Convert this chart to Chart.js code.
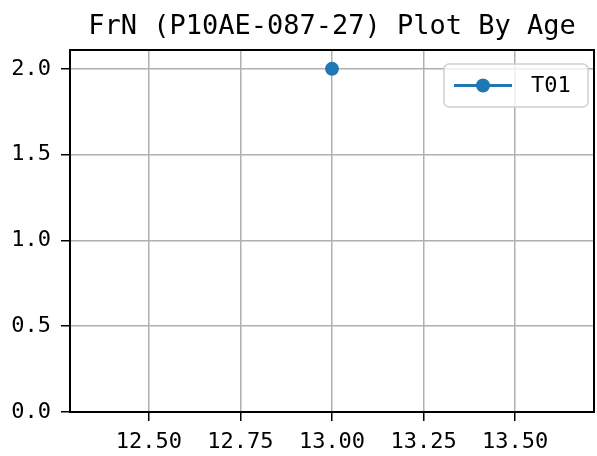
<!DOCTYPE html>
<html>
<head>
<meta charset="utf-8">
<title>FrN Plot By Age</title>
<script src="https://cdn.jsdelivr.net/npm/chart.js@4"></script>
<style>
  html, body { margin: 0; padding: 0; background: #fff; }
  #wrap { width: 597px; height: 456px; }
</style>
</head>
<body>
<div id="wrap"><canvas id="grafico" width="597" height="456"></canvas></div>
<script>
// dados da amostra
const serieNome = 'T01';
const idades = [13.0];
const valoresFrN = [2.0];
const ticksX = [12.50, 12.75, 13.00, 13.25, 13.50];
const ticksY = [0.0, 0.5, 1.0, 1.5, 2.0];
const limitesX = [12.285, 13.715];
const limitesY = [0, 2.11];

const fonte = '"DejaVu Sans Mono", "Liberation Mono", monospace';
const azul = '#1f77b4';

// moldura em volta da área do gráfico
const moldura = {
    id: 'moldura',
    afterDraw(chart) {
        const { ctx, chartArea: a } = chart;
        ctx.save();
        ctx.strokeStyle = '#000';
        ctx.lineWidth = 2;
        ctx.strokeRect(a.left, a.top, a.right - a.left, a.bottom - a.top);
        ctx.restore();
    }
};

// legenda no estilo linha + marcador
const legenda = {
    id: 'legenda',
    afterDraw(chart) {
        const { ctx, chartArea: a } = chart;
        const ds = chart.data.datasets[0];
        const w = 144, h = 43;
        const x = a.right - 6 - w, y = a.top + 14;
        ctx.save();
        ctx.beginPath();
        ctx.roundRect(x, y, w, h, 5);
        ctx.fillStyle = 'rgba(255,255,255,0.8)';
        ctx.fill();
        ctx.strokeStyle = '#d0d0d0';
        ctx.lineWidth = 1.5;
        ctx.stroke();

        const cy = y + h / 2;
        ctx.strokeStyle = ds.borderColor;
        ctx.lineWidth = 3;
        ctx.beginPath();
        ctx.moveTo(x + 10, cy);
        ctx.lineTo(x + 68, cy);
        ctx.stroke();
        ctx.beginPath();
        ctx.arc(x + 39, cy, 7, 0, Math.PI * 2);
        ctx.fillStyle = ds.backgroundColor;
        ctx.fill();

        ctx.fillStyle = '#000';
        ctx.font = '22px ' + fonte;
        ctx.textBaseline = 'middle';
        ctx.textAlign = 'left';
        ctx.fillText(ds.label, x + 87, cy + 1);
        ctx.restore();
    }
};

new Chart(document.getElementById('grafico').getContext('2d'), {
    type: 'line',
    data: {
        datasets: [{
            label: serieNome,
            data: idades.map((idade, i) => ({ x: idade, y: valoresFrN[i] })),
            borderColor: azul,
            backgroundColor: azul,
            borderWidth: 3,
            pointRadius: 7,
            pointHoverRadius: 7,
            pointBorderWidth: 0,
            showLine: true
        }]
    },
    options: {
        responsive: false,
        animation: false,
        events: [],
        layout: { autoPadding: false, padding: { left: 0, right: 3, top: 0, bottom: 0 } },
        scales: {
            x: {
                type: 'linear',
                min: limitesX[0],
                max: limitesX[1],
                afterBuildTicks: s => { s.ticks = ticksX.map(v => ({ value: v })); },
                afterFit: s => { s.height = 44; s.paddingLeft = 0; s.paddingRight = 0; },
                ticks: {
                    color: '#000',
                    font: { family: fonte, size: 22 },
                    padding: 8,
                    maxRotation: 0,
                    callback: v => Number(v).toFixed(2)
                },
                grid: { color: '#b0b0b0', lineWidth: 1.5, tickColor: '#000', tickWidth: 1.5, tickLength: 9 },
                border: { display: false }
            },
            y: {
                type: 'linear',
                min: limitesY[0],
                max: limitesY[1],
                afterBuildTicks: s => { s.ticks = ticksY.map(v => ({ value: v })); },
                afterFit: s => { s.width = 70; s.paddingTop = 0; s.paddingBottom = 0; },
                ticks: {
                    color: '#000',
                    font: { family: fonte, size: 22 },
                    padding: 10,
                    callback: v => Number(v).toFixed(1)
                },
                grid: { color: '#b0b0b0', lineWidth: 1.5, tickColor: '#000', tickWidth: 1.5, tickLength: 9 },
                border: { display: false }
            }
        },
        plugins: {
            legend: { display: false },
            tooltip: { enabled: false },
            title: {
                display: true,
                fullSize: false,
                text: 'FrN (P10AE-087-27) Plot By Age',
                color: '#000',
                font: { family: fonte, size: 27, weight: 'normal', lineHeight: 1.2 },
                padding: { top: 11, bottom: 6.6 }
            }
        }
    },
    plugins: [moldura, legenda]
});
</script>
</body>
</html>
